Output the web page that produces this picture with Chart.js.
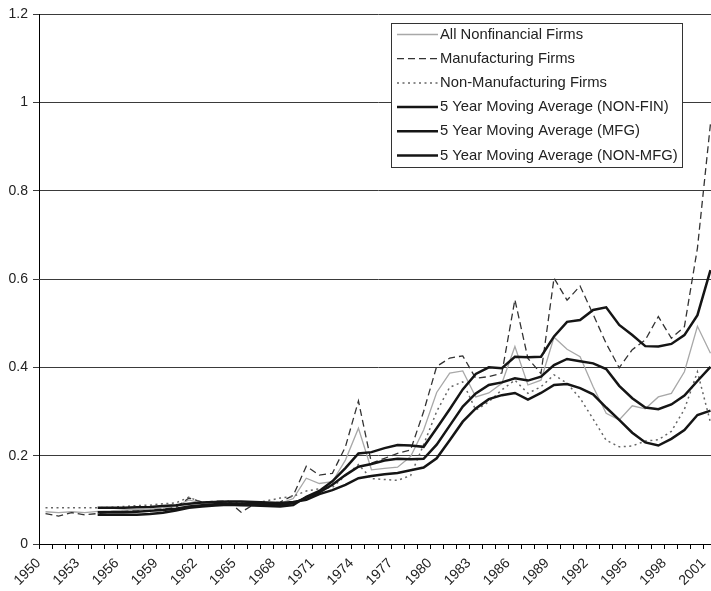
<!DOCTYPE html>
<html>
<head>
<meta charset="utf-8">
<title>Nonfinancial firms ratio 1950-2001</title>
<script src="https://cdn.jsdelivr.net/npm/chart.js@4.4.1/dist/chart.umd.min.js"></script>
<style>
  html, body { margin:0; padding:0; background:#fff; overflow:hidden; }
  /* chart is a bit wider than the window: the right edge is cut off like in the source */
  #wrap { position:relative; width:717px; height:591px; }
</style>
</head>
<body>
<div id="wrap"><canvas id="chart"></canvas></div>
<script>
// Categories and tick labels
const years = ['1950','1951','1952','1953','1954','1955','1956','1957','1958','1959',
  '1960','1961','1962','1963','1964','1965','1966','1967','1968','1969',
  '1970','1971','1972','1973','1974','1975','1976','1977','1978','1979',
  '1980','1981','1982','1983','1984','1985','1986','1987','1988','1989',
  '1990','1991','1992','1993','1994','1995','1996','1997','1998','1999',
  '2000','2001'];
const xTickLabels = ['1950','1953','1956','1959','1962','1965','1968','1971','1974',
  '1977','1980','1983','1986','1989','1992','1995','1998','2001'];
const yTicks = [0, 0.2, 0.4, 0.6, 0.8, 1, 1.2];

// Series values
const allNonfin = [0.073,0.071,0.073,0.071,0.074,0.075,0.077,0.078,0.079,0.082,
  0.086,0.100,0.092,0.093,0.094,0.090,0.090,0.090,0.092,0.103,
  0.149,0.137,0.141,0.190,0.262,0.168,0.171,0.174,0.198,0.258,
  0.343,0.387,0.392,0.333,0.342,0.364,0.447,0.360,0.371,0.468,
  0.441,0.424,0.356,0.296,0.281,0.313,0.306,0.333,0.341,0.390,
  0.493,0.432];
const mfg = [0.069,0.063,0.071,0.066,0.069,0.072,0.074,0.075,0.076,0.079,
  0.083,0.104,0.095,0.097,0.097,0.072,0.090,0.092,0.095,0.110,
  0.176,0.156,0.160,0.220,0.324,0.183,0.194,0.205,0.213,0.300,
  0.402,0.421,0.426,0.375,0.379,0.387,0.553,0.420,0.386,0.602,
  0.552,0.584,0.520,0.454,0.399,0.440,0.462,0.515,0.466,0.492,
  0.670,0.952];
const nonMfg = [0.082,0.082,0.082,0.082,0.082,0.083,0.085,0.087,0.088,0.091,
  0.093,0.106,0.094,0.094,0.094,0.093,0.092,0.098,0.104,0.108,
  0.120,0.125,0.128,0.155,0.180,0.148,0.146,0.144,0.155,0.225,
  0.300,0.355,0.367,0.303,0.322,0.349,0.371,0.341,0.356,0.383,
  0.364,0.330,0.283,0.235,0.220,0.222,0.233,0.236,0.255,0.305,
  0.390,0.275];
const maNonFin = [null,null,null,null,0.072,0.072,0.072,0.073,0.075,0.077,
  0.080,0.085,0.088,0.090,0.091,0.091,0.091,0.090,0.089,0.092,
  0.105,0.117,0.134,0.156,0.175,0.181,0.189,0.193,0.192,0.193,
  0.225,0.268,0.311,0.341,0.360,0.366,0.375,0.370,0.379,0.405,
  0.419,0.414,0.409,0.396,0.358,0.330,0.309,0.305,0.316,0.336,
  0.369,0.401];
const maMfg = [null,null,null,null,0.066,0.066,0.066,0.066,0.068,0.071,
  0.076,0.082,0.085,0.087,0.089,0.088,0.087,0.086,0.085,0.088,
  0.107,0.120,0.142,0.172,0.205,0.208,0.217,0.224,0.223,0.220,
  0.262,0.305,0.350,0.385,0.400,0.398,0.424,0.423,0.424,0.470,
  0.503,0.507,0.530,0.536,0.496,0.473,0.448,0.447,0.453,0.473,
  0.518,0.620];
const maNonMfg = [null,null,null,null,0.082,0.082,0.082,0.083,0.084,0.086,
  0.088,0.091,0.094,0.095,0.096,0.096,0.095,0.094,0.093,0.095,
  0.100,0.113,0.122,0.134,0.149,0.154,0.158,0.161,0.167,0.173,
  0.194,0.235,0.277,0.307,0.328,0.337,0.342,0.327,0.342,0.360,
  0.362,0.353,0.339,0.309,0.281,0.252,0.230,0.223,0.238,0.258,
  0.292,0.302];

const FONT = '"Liberation Sans", Arial, sans-serif';

// Boxed legend inside the plot, drawn from the dataset styles
const boxLegend = {
  id: 'boxLegend',
  afterDatasetsDraw(chart) {
    const ctx = chart.ctx;
    ctx.save();
    ctx.fillStyle = '#fff';
    ctx.fillRect(391.5, 23.5, 291, 144);
    ctx.strokeStyle = '#333';
    ctx.lineWidth = 1;
    ctx.strokeRect(391.5, 23.5, 291, 144);
    ctx.font = '14.8px ' + FONT;
    ctx.textBaseline = 'middle';
    chart.data.datasets.forEach(function(ds, i){
      const y = 34.5 + i * 24.2;
      ctx.beginPath();
      ctx.setLineDash(ds.borderDash || []);
      ctx.strokeStyle = ds.borderColor;
      ctx.lineWidth = ds.borderWidth;
      ctx.moveTo(397, y);
      ctx.lineTo(438, y);
      ctx.stroke();
      ctx.setLineDash([]);
      ctx.fillStyle = '#222';
      ctx.fillText(ds.label, 440, y);
    });
    ctx.restore();
  }
};

function series(label, data, color, width, dash, order) {
  return { label: label, data: data, borderColor: color, borderWidth: width,
    borderDash: dash, order: order, pointRadius: 0, tension: 0, fill: false };
}

new Chart(document.getElementById('chart'), {
  type: 'line',
  data: {
    labels: years,
    datasets: [
      series('All Nonfinancial Firms', allNonfin, '#a8a8a8', 1.3, [], 3),
      series('Manufacturing Firms', mfg, '#333', 1.3, [7, 4], 2),
      series('Non-Manufacturing Firms', nonMfg, '#666', 1.5, [2, 3.5], 1),
      series('5 Year Moving Average (NON-FIN)', maNonFin, '#151515', 2.5, [], 0),
      series('5 Year Moving Average (MFG)', maMfg, '#151515', 2.5, [], 0),
      series('5 Year Moving Average (NON-MFG)', maNonMfg, '#151515', 2.5, [], 0)
    ]
  },
  options: {
    responsive: true,
    maintainAspectRatio: false,
    animation: false,
    layout: { padding: { top: 14, left: 0, right: 0, bottom: 0 } },
    plugins: { legend: { display: false }, tooltip: { enabled: false } },
    scales: {
      x: {
        type: 'category',
        offset: true,
        grid: { offset: true, drawOnChartArea: false, drawTicks: true, tickLength: 5, color: '#000' },
        border: { color: '#000', width: 1 },
        ticks: {
          autoSkip: false, minRotation: 45, maxRotation: 45, padding: 6, labelOffset: -7,
          color: '#222', font: { family: FONT, size: 14 },
          callback: function(value){
            const lab = this.getLabelForValue(value);
            return xTickLabels.includes(lab) ? lab : '';
          }
        },
        afterFit: function(s){ s.height = 47; s.paddingLeft = 0; s.paddingRight = 0; }
      },
      y: {
        min: 0, max: 1.2,
        afterBuildTicks: function(s){ s.ticks = yTicks.map(v => ({ value: v })); },
        grid: { color: '#3a3a3a', lineWidth: 1, tickLength: 6 },
        border: { color: '#000', width: 1 },
        ticks: {
          padding: 5, color: '#222', font: { family: FONT, size: 14 },
          callback: v => String(Math.round(v * 10) / 10)
        },
        afterFit: function(s){ s.width = 39; }
      }
    }
  },
  plugins: [boxLegend]
});
</script>
</body>
</html>
